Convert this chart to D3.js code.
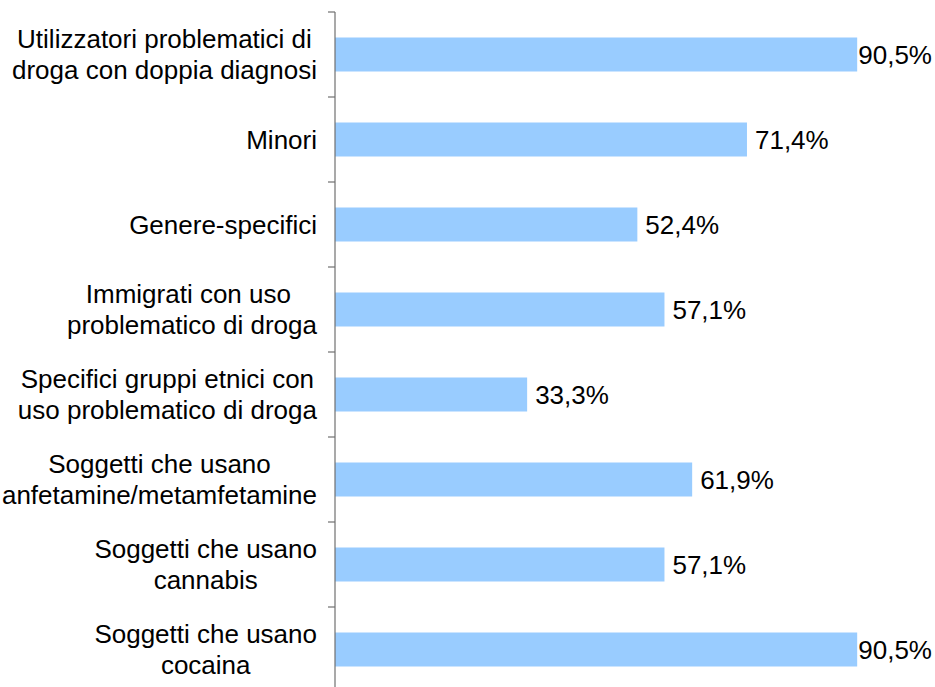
<!DOCTYPE html>
<html>
<head>
<meta charset="utf-8">
<script src="https://cdn.jsdelivr.net/npm/d3@7"></script>
<style>
  html, body { margin: 0; padding: 0; background: #fff; }
  svg { display: block; }
  text { font-family: "Liberation Sans", Arial, sans-serif; fill: #000; white-space: pre; }
</style>
</head>
<body>
<svg id="chart" width="935" height="687"></svg>
<script>
// Categories (each entry is the lines of its label), top to bottom
const categories = [
  ["Utilizzatori problematici di", "droga con doppia diagnosi"],
  ["Minori"],
  ["Genere-specifici"],
  ["Immigrati con uso ", "problematico di droga"],
  ["Specifici gruppi etnici con", "uso problematico di droga"],
  ["Soggetti che usano", "anfetamine/metamfetamine"],
  ["Soggetti che usano", "cannabis"],
  ["Soggetti che usano", "cocaina"]
];
const values = [90.5, 71.4, 52.4, 57.1, 33.3, 61.9, 57.1, 90.5];
const valueLabels = ["90,5%", "71,4%", "52,4%", "57,1%", "33,3%", "61,9%", "57,1%", "90,5%"];

const W = 935, H = 687;
const margin = { left: 335, top: 12, plotWidth: 577, bandStep: 85 };

const svg = d3.select("#chart");

const ids = categories.map((c, i) => i);
const y = d3.scaleBand()
  .domain(ids)
  .range([margin.top, margin.top + margin.bandStep * ids.length])
  .paddingInner(0.6)
  .paddingOuter(0.3);

const x = d3.scaleLinear()
  .domain([0, 100])
  .range([margin.left, margin.left + margin.plotWidth]);

// Bars
svg.append("g")
  .selectAll("rect")
  .data(values)
  .join("rect")
  .attr("x", x(0))
  .attr("y", (d, i) => y(i))
  .attr("width", d => x(d) - x(0))
  .attr("height", y.bandwidth())
  .attr("fill", "#99CCFF");

// Category axis: vertical line with ticks at band boundaries
const axis = svg.append("g").attr("stroke", "#707070").attr("stroke-width", 1.2);
axis.append("line")
  .attr("x1", x(0)).attr("x2", x(0))
  .attr("y1", margin.top).attr("y2", margin.top + margin.bandStep * ids.length);
const boundaries = d3.range(ids.length + 1).map(i => margin.top + i * margin.bandStep);
axis.selectAll("line.tick")
  .data(boundaries)
  .join("line")
  .attr("class", "tick")
  .attr("x1", x(0) - 7).attr("x2", x(0))
  .attr("y1", d => d).attr("y2", d => d);

// Category labels: each block is right-aligned, its lines centred within it
const lineGap = 31;
const labelRight = x(0) - 18;
const labels = svg.append("g")
  .attr("font-size", 26)
  .attr("text-anchor", "middle");
categories.forEach((lines, i) => {
  const cy = y(i) + y.bandwidth() / 2;
  const t = labels.append("text")
    .attr("y", cy - (lines.length - 1) * lineGap / 2)
    .attr("dominant-baseline", "central");
  const spans = lines.map((ln, j) =>
    t.append("tspan")
      .attr("dy", j === 0 ? 0 : lineGap)
      .text(ln)
  );
  const maxW = d3.max(spans, s => s.node().getComputedTextLength());
  spans.forEach(s => s.attr("x", labelRight - maxW / 2));
});

// Value labels, kept inside the canvas
const vl = svg.append("g")
  .attr("font-size", 26);
vl.selectAll("text")
  .data(values)
  .join("text")
  .attr("y", (d, i) => y(i) + y.bandwidth() / 2)
  .attr("dominant-baseline", "central")
  .text((d, i) => valueLabels[i])
  .attr("x", function(d) {
    const w = this.getComputedTextLength();
    return Math.min(x(d) + 8, W - 3 - w);
  });
</script>
</body>
</html>
